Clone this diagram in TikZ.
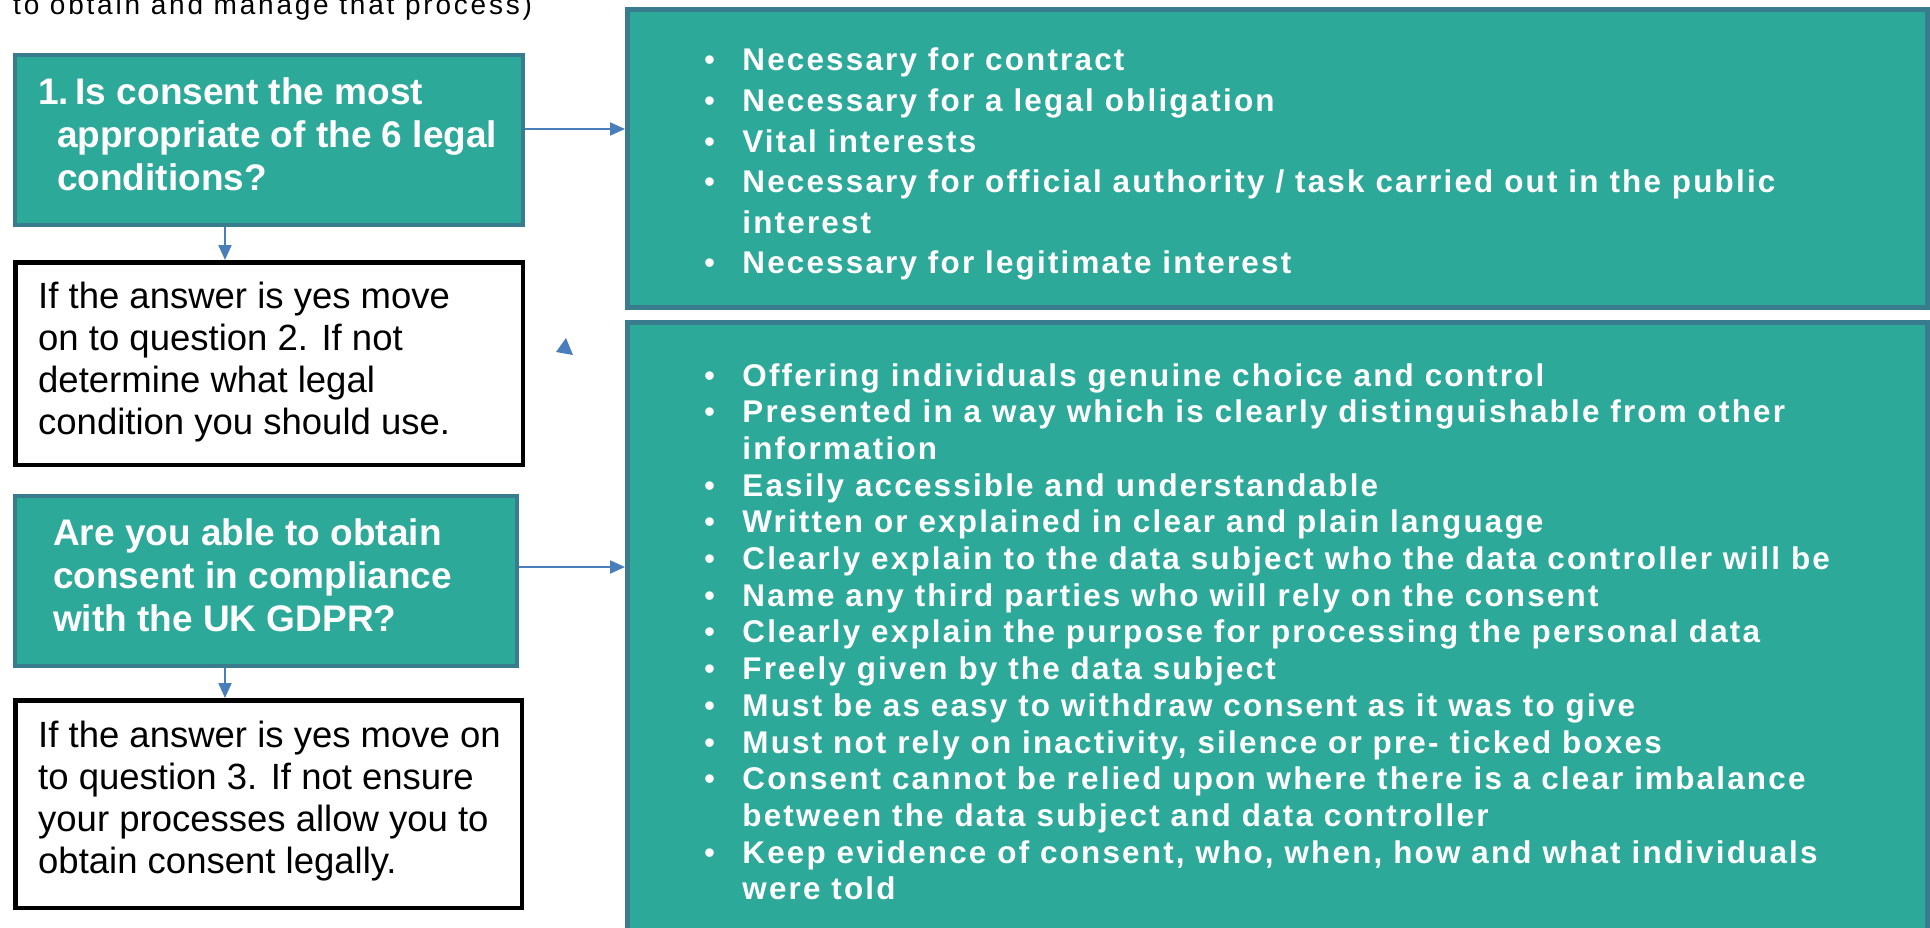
\documentclass[tikz,border=0pt]{standalone}
\usepackage{fontspec}
\setmainfont{Liberation Sans}
\newfontfamily\notefont[LetterSpace=10]{Liberation Sans}
\newfontfamily\listfont[LetterSpace=7]{Liberation Sans}
\usetikzlibrary{arrows.meta}
\pgfdeclarelayer{nodelayer}
\pgfdeclarelayer{edgelayer}
\pgfsetlayers{edgelayer,nodelayer,main}
\definecolor{boxteal}{RGB}{45,169,154}
\definecolor{edgeteal}{RGB}{56,124,141}
\definecolor{arrowblue}{RGB}{74,126,187}
\tikzstyle{question box}=[fill=boxteal, draw=edgeteal, line width=4pt, shape=rectangle, minimum width=508pt, minimum height=170pt, inner sep=0pt]
\tikzstyle{answer box}=[fill=white, draw=black, line width=4.5pt, shape=rectangle, inner sep=0pt]
\tikzstyle{list box}=[fill=boxteal, draw=edgeteal, line width=5pt, shape=rectangle, minimum width=1300pt, inner sep=0pt]
\tikzstyle{question text}=[text=white, anchor=base west, inner sep=0pt, font=\fontsize{37}{43}\selectfont\bfseries]
\tikzstyle{answer text}=[text=black, anchor=base west, inner sep=0pt, font=\fontsize{36.5}{42}\selectfont]
\tikzstyle{list text}=[text=white, anchor=base west, inner sep=0pt, font=\fontsize{31.4}{40.6}\listfont\bfseries]
\tikzstyle{note text}=[text=black, anchor=base west, inner sep=0pt, font=\fontsize{28}{30}\notefont]
\tikzstyle{blue arrow}=[draw=arrowblue, line width=2pt, -{Triangle[length=15pt, width=13pt]}]
\newcommand{\itm}{\textmd{\textbullet}}

\begin{document}
\begin{tikzpicture}[x=1pt, y=-1pt]
	\useasboundingbox (0, 0) rectangle (1930, 928);
	\begin{pgfonlayer}{nodelayer}
		\node [style=note text] (0) at (13, 15) {to obtain and manage that process)};
		\node [style=question box] (1) at (269, 140) {};
		\node [style=question text] (2) at (38, 105) {\begin{tabular}[t]{@{}l@{}}\makebox[37.5pt][l]{1.}Is consent the most\\\hspace*{19pt}appropriate of the 6 legal\\\hspace*{19pt}conditions?\end{tabular}};
		\node [style=answer box, minimum width=507.5pt, minimum height=202.5pt] (3) at (269, 363.5) {};
		\node [style=answer text] (4) at (38, 308) {\begin{tabular}[t]{@{}l@{}}If the answer is yes move\\on to question 2. If not\\determine what legal\\condition you should use.\end{tabular}};
		\node [style=question box, minimum width=502pt] (5) at (266, 581) {};
		\node [style=question text] (6) at (53, 545) {\begin{tabular}[t]{@{}l@{}}Are you able to obtain\\consent in compliance\\with the UK GDPR?\end{tabular}};
		\node [style=answer box, minimum width=506.5pt, minimum height=207.5pt] (7) at (268.5, 804) {};
		\node [style=answer text] (8) at (38, 747) {\begin{tabular}[t]{@{}l@{}}If the answer is yes move on\\to question 3. If not ensure\\your processes allow you to\\obtain consent legally.\end{tabular}};
		\node [style=list box, minimum height=298pt] (9) at (1277.5, 158.5) {};
		\node [style=list text] (10) at (704, 71) {\begin{tabular}[t]{@{}l@{\hspace{25pt}}l@{}}
			\itm & Necessary for contract\\
			\itm & Necessary for a legal obligation\\
			\itm & Vital interests\\
			\itm & Necessary for official authority / task carried out in the public\\
			 & interest\\
			\itm & Necessary for legitimate interest
		\end{tabular}};
		\node [style=list box, minimum height=637.5pt] (11) at (1277.5, 641.25) {};
		\node [style=list text, font=\fontsize{31.4}{36.7}\listfont\bfseries] (12) at (704, 386) {\begin{tabular}[t]{@{}l@{\hspace{25pt}}l@{}}
			\itm & Offering individuals genuine choice and control\\
			\itm & Presented in a way which is clearly distinguishable from other\\
			 & information\\
			\itm & Easily accessible and understandable\\
			\itm & Written or explained in clear and plain language\\
			\itm & Clearly explain to the data subject who the data controller will be\\
			\itm & Name any third parties who will rely on the consent\\
			\itm & Clearly explain the purpose for processing the personal data\\
			\itm & Freely given by the data subject\\
			\itm & Must be as easy to withdraw consent as it was to give\\
			\itm & Must not rely on inactivity, silence or pre- ticked boxes\\
			\itm & Consent cannot be relied upon where there is a clear imbalance\\
			 & between the data subject and data controller\\
			\itm & Keep evidence of consent, who, when, how and what individuals\\
			 & were told
		\end{tabular}};
	\end{pgfonlayer}
	\begin{pgfonlayer}{edgelayer}
		\draw [style=blue arrow] ([yshift=11pt]1.east) to ([yshift=11pt]1.east -| 9.west);
		\draw [style=blue arrow] ([xshift=-44pt]1.south) to ([xshift=-44pt]1.south |- 3.north);
		\draw [style=blue arrow] ([yshift=14pt]5.east) to ([yshift=14pt]5.east -| 11.west);
		\draw [style=blue arrow] ([xshift=-41pt]5.south) to ([xshift=-41pt]5.south |- 7.north);
		\fill [arrowblue] (566, 338) -- (556, 352) -- (573, 355) -- cycle;
	\end{pgfonlayer}
\end{tikzpicture}
\end{document}
